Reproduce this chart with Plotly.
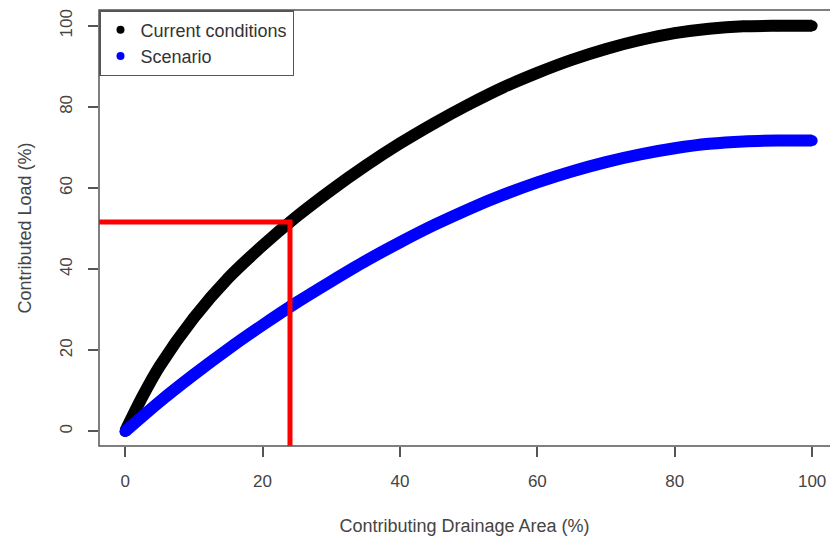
import plotly.graph_objects as go

# Data
area_pct = [0, 2.5, 5, 10, 15, 20, 25, 30, 35, 40, 45, 50, 55, 60, 65, 70, 75, 80, 85, 90, 95, 100]
current_load = [0, 8.5, 16, 28, 37.8, 45.8, 53, 59.5, 65.5, 71, 76, 80.6, 84.8, 88.4, 91.6, 94.3, 96.5, 98.2, 99.3, 99.9, 100, 100]
scenario_area = [0, 5, 10, 15, 20, 25, 30, 35, 40, 45, 50, 55, 60, 65, 70, 75, 80, 85, 90, 95, 100]
scenario_load = [0, 7.3, 14, 20.3, 26.2, 31.8, 37, 42, 46.6, 50.9, 54.8, 58.3, 61.4, 64.1, 66.4, 68.3, 69.8, 70.9, 71.5, 71.7, 71.7]
series_names = ["Current conditions", "Scenario"]
series_colors = ["#000000", "#0000FF"]
threshold_x = 24
threshold_y = 51.6
x_ticks = [0, 20, 40, 60, 80, 100]
y_ticks = [0, 20, 40, 60, 80, 100]

X_RANGE = [-3.8, 102.6]
Y_RANGE = [-3.6, 103.9]

fig = go.Figure()

for xs, ys, name, col in zip([area_pct, scenario_area], [current_load, scenario_load],
                             series_names, series_colors):
    fig.add_trace(go.Scatter(
        x=xs, y=ys, mode="lines+markers",
        line=dict(color=col, width=12, shape="spline", smoothing=0.8),
        marker=dict(color=col, size=11),
        showlegend=False, hoverinfo="skip",
    ))

# Red threshold lines
fig.add_shape(type="line", xref="x", yref="y", x0=X_RANGE[0], x1=threshold_x + 0.35,
              y0=threshold_y, y1=threshold_y, line=dict(color="#FF0000", width=5))
fig.add_shape(type="line", xref="x", yref="y", x0=threshold_x, x1=threshold_x,
              y0=threshold_y, y1=Y_RANGE[0], line=dict(color="#FF0000", width=5))

# Legend-only traces
for name, col in zip(series_names, series_colors):
    fig.add_trace(go.Scatter(
        x=[None], y=[None], mode="markers", name=name,
        marker=dict(color=col, size=8),
    ))

# Plot box (right edge falls outside the page, as in the reference)
fig.add_shape(type="rect", xref="paper", yref="paper", x0=0, x1=1.05, y0=0, y1=1,
              line=dict(color="#555555", width=1.5), layer="above")

axis_font = dict(family="Liberation Sans, Arial, sans-serif", size=17, color="#444444")

fig.update_layout(
    width=830, height=540,
    margin=dict(l=99, r=0, t=10, b=94),
    paper_bgcolor="white", plot_bgcolor="white",
    font=axis_font,
    showlegend=True,
    legend=dict(
        x=0, y=1, xanchor="left", yanchor="top",
        bgcolor="white", bordercolor="#555555", borderwidth=1.5,
        font=dict(family="Liberation Sans, Arial, sans-serif", size=18, color="#333333"),
        itemwidth=30, tracegroupgap=0,
    ),
    xaxis=dict(
        range=X_RANGE, tickvals=x_ticks, ticktext=[str(v) for v in x_ticks],
        showgrid=False, zeroline=False, showline=False,
        ticks="outside", ticklen=10, tickwidth=1.5, tickcolor="#555555",
        ticklabelstandoff=10,
        title=dict(text="Contributing Drainage Area (%)", font=dict(size=18, color="#444444"), standoff=28),
    ),
    yaxis=dict(
        range=Y_RANGE, tickvals=y_ticks, ticktext=[str(v) for v in y_ticks],
        showgrid=False, zeroline=False, showline=False,
        ticks="outside", ticklen=10, tickwidth=1.5, tickcolor="#555555",
        tickangle=-90, ticklabelstandoff=9,
        title=dict(text="Contributed Load (%)", font=dict(size=18, color="#444444"), standoff=20),
    ),
)

fig.write_html("out.html")
